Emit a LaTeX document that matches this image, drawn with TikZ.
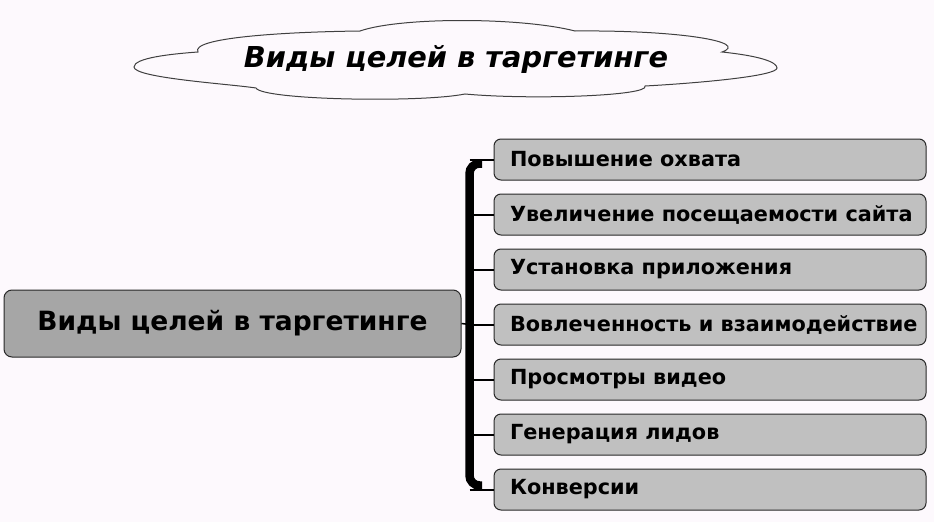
\documentclass[tikz,border=0pt]{standalone}
\usepackage{fontspec}
\setmainfont{DejaVu Sans}
\definecolor{bgc}{RGB}{253,249,253}
\definecolor{mainfill}{RGB}{166,166,166}
\definecolor{subfill}{RGB}{192,192,192}
\definecolor{edgec}{RGB}{40,40,40}
\begin{document}
\begin{tikzpicture}[x=1pt,y=-1pt,
  mainbox/.style={draw=edgec,line width=1pt,fill=mainfill,rounded corners=8pt,
    minimum width=457pt,minimum height=67pt,inner sep=0pt,
    font=\fontsize{26.5}{30}\selectfont\bfseries},
  subbox/.style={draw=edgec,line width=1pt,fill=subfill,rounded corners=7pt,
    minimum width=432pt,minimum height=41pt,inner sep=0pt,
    font=\fontsize{20.8}{24}\selectfont\bfseries},
  stub/.style={line width=2pt,black},
  bar/.style={line width=8.5pt,black,rounded corners=10pt},
  cloudline/.style={draw=black!75,line width=1pt,fill=bgc}]
\useasboundingbox (0,0) rectangle (934,522);
\fill[bgc] (0,0) rectangle (934,522);
% cloud
\draw[cloudline] (134,67)
  .. controls (134,58) and (170,54) .. (198,52)
  .. controls (190,38) and (280,32) .. (360,31)
  .. controls (400,17) and (520,17) .. (575,31)
  .. controls (680,30) and (750,42) .. (722,52)
  .. controls (760,56) and (777,62) .. (777,68)
  .. controls (777,76) and (700,83) .. (645,86)
  .. controls (650,96) and (530,100) .. (465,94)
  .. controls (420,103) and (262,100) .. (256,88)
  .. controls (230,84) and (134,78) .. (134,67) -- cycle;
\node[font=\fontsize{28.8}{32}\selectfont\bfseries\itshape] (title) at (456,59) {Виды целей в таргетинге};
% main box
\node[mainbox] (main) at (232.5,323.5) {Виды целей в таргетинге};
% sub boxes
\foreach \i/\t in {1/Повышение охвата,2/Увеличение посещаемости сайта,3/Установка приложения,4/Вовлеченность и взаимодействие,5/Просмотры видео,6/Генерация лидов,7/Конверсии}{
  \node[subbox] (b\i) at (710,{159.5+55*(\i-1)}) {\makebox[400pt][l]{\t}};
  \coordinate (j\i) at (469.5,{159.5+55*(\i-1)});
}
\coordinate (bt) at (482,163.5);
\coordinate (bb) at (482,485.5);
\draw[bar] (bt) -| (469.5,323) |- (bb);
\foreach \i in {1,...,7}{\draw[stub] (j\i) -- (b\i.west);}
\draw[line width=1.5pt] (main.east) -- (j4);
\end{tikzpicture}
\end{document}
